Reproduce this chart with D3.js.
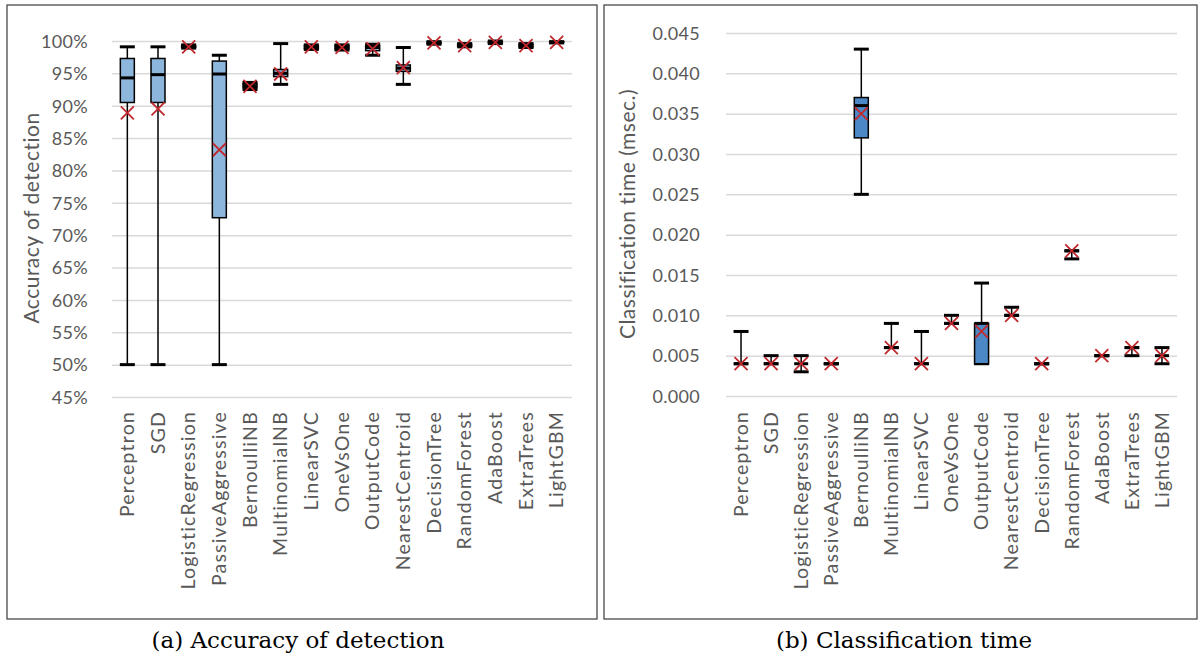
<!DOCTYPE html>
<html>
<head>
<meta charset="utf-8">
<script src="https://cdn.jsdelivr.net/npm/d3@7"></script>
<style>
  body { margin: 0; background: #fff; }
  svg { display: block; }
  .tick-label, .cat-label, .axis-title { font-family: Lato, "Open Sans", sans-serif; fill: #595959; }
  .caption { font-family: "DejaVu Serif", "Liberation Serif", serif; fill: #000; }
</style>
</head>
<body>
<div id="chart"></div>
<script>
// Categories shared by both panels
const categories = ['Perceptron', 'SGD', 'LogisticRegression', 'PassiveAggressive', 'BernoulliNB',
  'MultinomialNB', 'LinearSVC', 'OneVsOne', 'OutputCode', 'NearestCentroid', 'DecisionTree',
  'RandomForest', 'AdaBoost', 'ExtraTrees', 'LightGBM'];

// (a) Accuracy of detection, percent
const accMin  = [50.0, 50.0, 98.9, 50.0, 92.5, 93.3, 98.7, 98.6, 97.8, 93.3, 99.5, 99.1, 99.6, 99.0, 99.7];
const accQ1   = [90.5, 90.5, 99.0, 72.7, 92.8, 94.5, 98.8, 98.8, 98.5, 95.3, 99.6, 99.2, 99.7, 99.1, 99.8];
const accMed  = [94.3, 94.8, 99.2, 94.9, 93.1, 95.0, 99.1, 99.1, 99.0, 95.8, 99.7, 99.4, 99.8, 99.3, 99.8];
const accQ3   = [97.3, 97.3, 99.3, 96.9, 93.4, 95.6, 99.3, 99.3, 99.3, 96.3, 99.8, 99.5, 99.9, 99.5, 99.9];
const accMax  = [99.1, 99.1, 99.4, 97.8, 93.6, 99.6, 99.4, 99.4, 99.5, 99.0, 99.9, 99.6, 100.0, 99.6, 99.9];
const accMean = [88.9, 89.5, 99.1, 83.2, 93.0, 94.9, 99.1, 99.0, 98.8, 95.9, 99.7, 99.3, 99.8, 99.3, 99.8];
const accTicks = [45, 50, 55, 60, 65, 70, 75, 80, 85, 90, 95, 100];

// (b) Classification time, msec.
const timeMin  = [0.004, 0.004, 0.003, 0.004, 0.025, 0.006, 0.004, 0.009, 0.004, 0.010, 0.004, 0.017, 0.005, 0.005, 0.004];
const timeQ1   = [0.004, 0.004, 0.004, 0.004, 0.032, 0.006, 0.004, 0.009, 0.004, 0.010, 0.004, 0.018, 0.005, 0.006, 0.005];
const timeMed  = [0.004, 0.004, 0.004, 0.004, 0.036, 0.006, 0.004, 0.009, 0.009, 0.010, 0.004, 0.018, 0.005, 0.006, 0.005];
const timeQ3   = [0.004, 0.004, 0.004, 0.004, 0.037, 0.006, 0.004, 0.009, 0.009, 0.010, 0.004, 0.018, 0.005, 0.006, 0.005];
const timeMax  = [0.008, 0.005, 0.005, 0.004, 0.043, 0.009, 0.008, 0.010, 0.014, 0.011, 0.004, 0.018, 0.005, 0.006, 0.006];
const timeMean = [0.004, 0.004, 0.004, 0.004, 0.035, 0.006, 0.004, 0.009, 0.008, 0.010, 0.004, 0.018, 0.005, 0.006, 0.005];
const timeTicks = [0, 0.005, 0.010, 0.015, 0.020, 0.025, 0.030, 0.035, 0.040, 0.045];

const svg = d3.select('#chart').append('svg')
  .attr('width', 1200)
  .attr('height', 659);

function drawPanel(p) {
  const g = svg.append('g');

  // outer frame
  g.append('rect')
    .attr('x', p.frame[0]).attr('y', p.frame[1])
    .attr('width', p.frame[2]).attr('height', p.frame[3])
    .attr('fill', 'none').attr('stroke', '#3a3a3a').attr('stroke-width', 1.2);

  const x = d3.scaleBand().domain(categories).range(p.xRange).padding(0);
  const y = d3.scaleLinear().domain(p.yDomain).range(p.yRange);

  // gridlines + tick labels
  const yAxis = d3.axisLeft(y).tickValues(p.ticks).tickFormat(p.fmt).tickSize(0).tickPadding(0);
  const ax = g.append('g').attr('transform', `translate(${p.xRange[0]},0)`).call(yAxis);
  ax.select('.domain').remove();
  ax.selectAll('.tick line')
    .attr('x2', p.xRange[1] - p.xRange[0])
    .attr('stroke', '#d9d9d9').attr('stroke-width', 1.5);
  ax.selectAll('.tick text')
    .attr('class', 'tick-label')
    .attr('x', p.labelX - p.xRange[0])
    .attr('dy', '0.35em')
    .style('font-size', '18px')
    .style('letter-spacing', '0.3px')
    .attr('font-family', null).attr('fill', null);

  // category labels
  const xAxis = d3.axisBottom(x).tickSize(0).tickPadding(0);
  const bx = g.append('g').attr('transform', `translate(0,${p.catY})`).call(xAxis);
  bx.select('.domain').remove();
  bx.selectAll('.tick text')
    .attr('class', 'cat-label')
    .attr('transform', 'rotate(-90)')
    .attr('x', 0).attr('y', 0)
    .attr('dy', '0.35em')
    .attr('text-anchor', 'end')
    .style('font-size', '19.5px')
    .style('letter-spacing', '1.2px')
    .attr('font-family', null).attr('fill', null);

  const rows = categories.map((c, i) => ({
    c, min: p.min[i], q1: p.q1[i], med: p.med[i], q3: p.q3[i], max: p.max[i], mean: p.mean[i]
  }));
  const cx = d => x(d.c) + x.bandwidth() / 2;
  const bw = 14, cw = 15;

  const boxes = g.append('g').selectAll('g').data(rows).enter().append('g');

  // whiskers
  boxes.append('line')
    .attr('x1', cx).attr('x2', cx)
    .attr('y1', d => y(d.max)).attr('y2', d => y(d.min))
    .attr('stroke', '#000').attr('stroke-width', 1.5);

  // caps
  boxes.append('line')
    .attr('x1', d => cx(d) - cw / 2).attr('x2', d => cx(d) + cw / 2)
    .attr('y1', d => y(d.max)).attr('y2', d => y(d.max))
    .attr('stroke', '#000').attr('stroke-width', 3);
  boxes.append('line')
    .attr('x1', d => cx(d) - cw / 2).attr('x2', d => cx(d) + cw / 2)
    .attr('y1', d => y(d.min)).attr('y2', d => y(d.min))
    .attr('stroke', '#000').attr('stroke-width', 3);

  // box (skip degenerate ones)
  boxes.filter(d => d.q3 > d.q1).append('rect')
    .attr('x', d => cx(d) - bw / 2)
    .attr('y', d => y(d.q3))
    .attr('width', bw)
    .attr('height', d => y(d.q1) - y(d.q3))
    .attr('fill', p.boxFill).attr('stroke', '#000').attr('stroke-width', 1.5);

  // median
  boxes.append('line')
    .attr('x1', d => cx(d) - bw / 2).attr('x2', d => cx(d) + bw / 2)
    .attr('y1', d => y(d.med)).attr('y2', d => y(d.med))
    .attr('stroke', '#000').attr('stroke-width', 3);

  // mean marker (x)
  const s = 6.5;
  boxes.append('path')
    .attr('d', d => {
      const px = cx(d), py = y(d.mean);
      return `M${px - s},${py - s}L${px + s},${py + s}M${px - s},${py + s}L${px + s},${py - s}`;
    })
    .attr('stroke', '#c0282d').attr('stroke-width', 1.8).attr('fill', 'none');

  // axis title
  g.append('text')
    .attr('class', 'axis-title')
    .attr('transform', `translate(${p.titleX},${p.titleY}) rotate(-90)`)
    .attr('text-anchor', 'middle')
    .attr('dy', '0.35em')
    .style('font-size', '21px')
    .style('letter-spacing', '0.5px')
    .text(p.title);

  // caption under the frame
  g.append('text')
    .attr('class', 'caption')
    .attr('x', p.capX).attr('y', 648)
    .attr('text-anchor', 'middle')
    .style('font-size', '23px')
    .text(p.caption);
}

drawPanel({
  frame: [7, 5, 590, 614],
  xRange: [112, 572], yDomain: [45, 100], yRange: [397, 41],
  ticks: accTicks, fmt: d => d + '%', labelX: 88,
  catY: 411,
  min: accMin, q1: accQ1, med: accMed, q3: accQ3, max: accMax, mean: accMean,
  boxFill: '#8db6dc',
  title: 'Accuracy of detection', titleX: 32, titleY: 218,
  caption: '(a) Accuracy of detection', capX: 298
});

drawPanel({
  frame: [604, 5, 593, 614],
  xRange: [726, 1177], yDomain: [0, 0.045], yRange: [396, 33],
  ticks: timeTicks, fmt: d3.format('.3f'), labelX: 700,
  catY: 411,
  min: timeMin, q1: timeQ1, med: timeMed, q3: timeQ3, max: timeMax, mean: timeMean,
  boxFill: '#4c88c6',
  title: 'Classification time (msec.)', titleX: 628, titleY: 214,
  caption: '(b) Classification time', capX: 904
});
</script>
</body>
</html>
